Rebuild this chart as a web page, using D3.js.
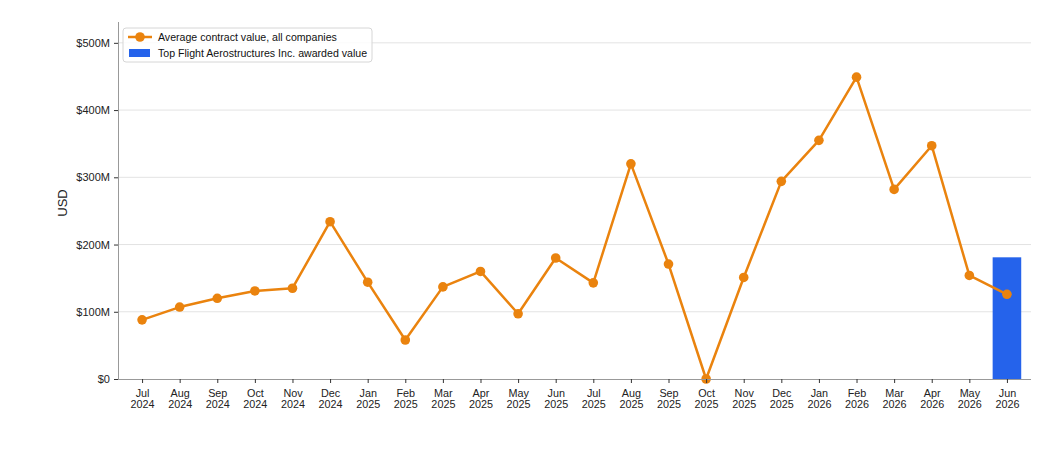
<!DOCTYPE html>
<html>
<head>
<meta charset="utf-8">
<script src="https://cdn.jsdelivr.net/npm/d3@7"></script>
<style>
  body { margin: 0; background: #fff; }
  svg { font-family: "Liberation Sans", Arial, sans-serif; }
</style>
</head>
<body>
<svg id="chart" width="1056" height="460"></svg>
<script>
// DATA
const months = ['Jul', 'Aug', 'Sep', 'Oct', 'Nov', 'Dec', 'Jan', 'Feb', 'Mar', 'Apr', 'May', 'Jun',
  'Jul', 'Aug', 'Sep', 'Oct', 'Nov', 'Dec', 'Jan', 'Feb', 'Mar', 'Apr', 'May', 'Jun'];
const years = ['2024', '2024', '2024', '2024', '2024', '2024', '2025', '2025', '2025', '2025', '2025', '2025',
  '2025', '2025', '2025', '2025', '2025', '2025', '2026', '2026', '2026', '2026', '2026', '2026'];
const avgValue = [88, 107, 120, 131, 135, 234, 144, 58, 137, 160, 97, 180,
  143, 320, 171, 0, 151, 294, 355, 449, 282, 347, 154, 126];
const awarded = [{ idx: 23, value: 181 }];
const yTicks = [0, 100, 200, 300, 400, 500];

// SETUP
let svg = d3.select('svg'),
  margin = { top: 22, right: 25, bottom: 81, left: 118 },
  width = 1056 - margin.left - margin.right,
  height = 460 - margin.top - margin.bottom;

const keys = months.map((m, i) => i);
let x = d3.scalePoint().domain(keys).range([0, width]).padding(0.64),
  step = x.step(),
  y = d3.scaleLinear().domain([0, 531]).range([height, 0]);

let g = svg.append('g')
  .attr('transform', 'translate(' + margin.left + ',' + margin.top + ')');

// GRID
g.append('g').selectAll('line').data(yTicks.slice(1)).enter().append('line')
  .attr('x1', 0).attr('x2', width)
  .attr('y1', d => y(d)).attr('y2', d => y(d))
  .attr('stroke', '#e3e3e3').attr('stroke-width', 1);

// BAR
const barW = step * 0.76;
g.append('g').selectAll('rect').data(awarded).enter().append('rect')
  .attr('x', d => x(d.idx) - barW / 2)
  .attr('y', d => y(d.value))
  .attr('width', barW)
  .attr('height', d => y(0) - y(d.value))
  .attr('fill', '#2563eb');

// LINE
const line = d3.line().x((d, i) => x(i)).y(d => y(d));
g.append('path').datum(avgValue)
  .attr('d', line)
  .attr('fill', 'none')
  .attr('stroke', '#ea830e')
  .attr('stroke-width', 2.5)
  .attr('stroke-linejoin', 'round');
g.append('g').selectAll('circle').data(avgValue).enter().append('circle')
  .attr('cx', (d, i) => x(i))
  .attr('cy', d => y(d))
  .attr('r', 4.8)
  .attr('fill', '#ea830e');

// AXES
const yAxis = g.append('g')
  .call(d3.axisLeft(y).tickValues(yTicks).tickSize(4).tickPadding(4)
    .tickFormat(d => d === 0 ? '$0' : '$' + d + 'M'));
const xAxis = g.append('g')
  .attr('transform', 'translate(0,' + height + ')')
  .call(d3.axisBottom(x).tickSize(4).tickPadding(3).tickFormat(''));
[yAxis, xAxis].forEach(a => {
  a.select('.domain').attr('stroke', '#999').attr('stroke-width', 1);
  a.selectAll('.tick line').attr('stroke', '#333');
  a.selectAll('text').attr('fill', '#222').style('font-size', '11px');
});
yAxis.select('.domain').attr('d', 'M0.5,0V' + (height + 0.5));
xAxis.select('.domain').attr('d', 'M0,0.5H' + width);

xAxis.selectAll('.tick').each(function (d) {
  const t = d3.select(this).append('text')
    .attr('fill', '#222').attr('text-anchor', 'middle')
    .style('font-size', '10.8px');
  t.append('tspan').attr('x', 0).attr('y', 18).text(months[d]);
  t.append('tspan').attr('x', 0).attr('y', 29).text(years[d]);
});

// Y AXIS LABEL
g.append('text')
  .attr('transform', 'rotate(-90)')
  .attr('x', -(203 - margin.top))
  .attr('y', -51)
  .attr('text-anchor', 'middle')
  .attr('fill', '#222')
  .style('font-size', '13px')
  .text('USD');

// LEGEND
const lg = svg.append('g').attr('transform', 'translate(123,28)');
lg.append('rect').attr('width', 249).attr('height', 34).attr('rx', 3)
  .attr('fill', '#fff').attr('fill-opacity', 0.85)
  .attr('stroke', '#d6d6d6');
lg.append('line').attr('x1', 5).attr('x2', 29).attr('y1', 9).attr('y2', 9)
  .attr('stroke', '#ea830e').attr('stroke-width', 2.5);
lg.append('circle').attr('cx', 17).attr('cy', 9).attr('r', 4.8).attr('fill', '#ea830e');
lg.append('rect').attr('x', 6).attr('y', 21).attr('width', 21).attr('height', 8).attr('fill', '#2563eb');
lg.append('text').attr('x', 35).attr('y', 13).style('font-size', '10.6px').attr('fill', '#111')
  .text('Average contract value, all companies');
lg.append('text').attr('x', 35).attr('y', 29).style('font-size', '10.6px').attr('fill', '#111')
  .text('Top Flight Aerostructures Inc. awarded value');
</script>
</body>
</html>
